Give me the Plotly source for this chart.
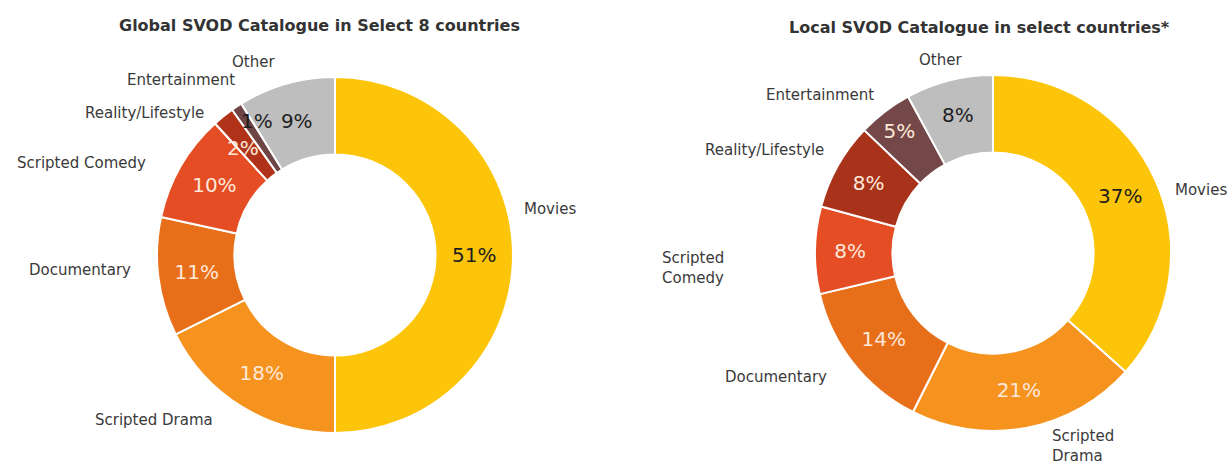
import plotly.graph_objects as go

# Genre shares of SVOD catalogues (percent)
categories = ["Movies", "Scripted Drama", "Documentary", "Scripted Comedy",
              "Reality/Lifestyle", "Entertainment", "Other"]
global_share = [51, 18, 11, 10, 2, 1, 9]
local_share = [37, 21, 14, 8, 8, 5, 8]

global_title = "Global SVOD Catalogue in Select 8 countries"
local_title = "Local SVOD Catalogue in select countries*"

colors_global = ["#FCC509", "#F6921E", "#E86F19", "#E54D24", "#B03319", "#6E4444", "#BEBEBE"]
colors_local = ["#FCC509", "#F6921E", "#E86F19", "#E54D24", "#A9321A", "#744848", "#BEBEBE"]
pale = "#FDE8DA"
dark = "#1E1E1E"
text_col_global = [dark, pale, pale, pale, pale, dark, dark]
text_col_local = [dark, pale, pale, pale, pale, pale, dark]

W, H = 1229, 464
FONT = "DejaVu Sans"


def px(x, y):
    return x / W, 1 - y / H


def inside_text(values, small=5):
    return [f"{v}%" if v >= small else "" for v in values]


fig = go.Figure()

fig.add_trace(go.Pie(
    labels=categories, values=global_share, sort=False, direction="clockwise",
    rotation=0, hole=0.565,
    text=inside_text(global_share), textinfo="text", textposition="inside",
    insidetextorientation="horizontal",
    insidetextfont=dict(family=FONT, size=20, color=text_col_global),
    marker=dict(colors=colors_global, line=dict(color="white", width=2)),
    domain=dict(x=[157 / W, 513 / W], y=[1 - 434 / H, 1 - 76 / H]),
    showlegend=False, hoverinfo="label+value",
))

fig.add_trace(go.Pie(
    labels=categories, values=local_share, sort=False, direction="clockwise",
    rotation=0, hole=0.565,
    text=inside_text(local_share), textinfo="text", textposition="inside",
    insidetextorientation="horizontal",
    insidetextfont=dict(family=FONT, size=20, color=text_col_local),
    marker=dict(colors=colors_local, line=dict(color="white", width=2)),
    domain=dict(x=[815 / W, 1171 / W], y=[1 - 431 / H, 1 - 75 / H]),
    showlegend=False, hoverinfo="label+value",
))

annotations = []


def add_text(text, x, y, xanchor="left", size=15, color="#3A3A3A", bold=False, align="left"):
    ax, ay = px(x, y)
    annotations.append(dict(
        text=f"<b>{text}</b>" if bold else text, x=ax, y=ay, xref="paper", yref="paper",
        xanchor=xanchor, yanchor="middle", showarrow=False, align=align,
        font=dict(family=FONT, size=size, color=color),
    ))


# Titles
add_text(global_title, 319, 26, xanchor="center", size=16, color="#333333", bold=True)
add_text(local_title, 979, 28, xanchor="center", size=16, color="#333333", bold=True)

# Category labels, left chart
add_text("Other", 253, 62, xanchor="center")
add_text("Entertainment", 237, 80, xanchor="right")
add_text("Reality/Lifestyle", 206, 113, xanchor="right")
add_text("Scripted Comedy", 148, 163, xanchor="right")
add_text("Documentary", 133, 270, xanchor="right")
add_text("Scripted Drama", 93, 420, xanchor="left")
add_text("Movies", 522, 209, xanchor="left")

# Category labels, right chart
add_text("Other", 940, 60, xanchor="center")
add_text("Entertainment", 876, 95, xanchor="right")
add_text("Reality/Lifestyle", 826, 150, xanchor="right")
add_text("Scripted<br>Comedy", 660, 268, xanchor="left")
add_text("Documentary", 829, 377, xanchor="right")
add_text("Scripted<br>Drama", 1050, 446, xanchor="left")
add_text("Movies", 1173, 190, xanchor="left")

# Values of the thinnest slices, set beside them
add_text(f"{global_share[4]}%", 243, 148, xanchor="center", size=20, color=pale)
add_text(f"{global_share[5]}%", 257, 121, xanchor="center", size=20, color=dark)

fig.update_layout(
    width=W, height=H,
    margin=dict(l=0, r=0, t=0, b=0),
    paper_bgcolor="white", plot_bgcolor="white",
    font=dict(family=FONT),
    annotations=annotations,
)

fig.write_html("out.html")
